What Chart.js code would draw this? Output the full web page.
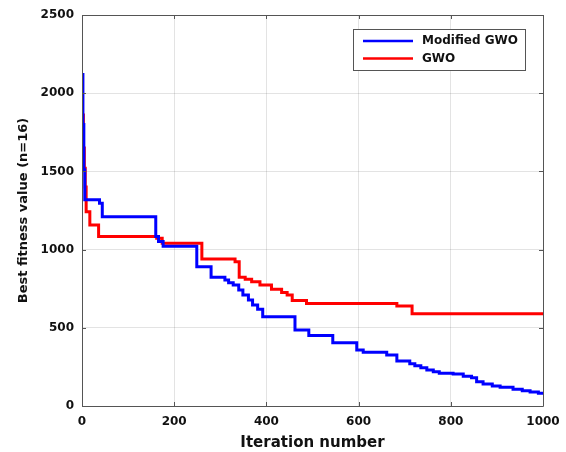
<!DOCTYPE html>
<html>
<head>
<meta charset="utf-8">
<script src="https://cdn.jsdelivr.net/npm/chart.js@4"></script>
<style>
  html, body { margin: 0; padding: 0; background: #ffffff; }
  #wrap { width: 566px; height: 452px; position: relative; }
</style>
</head>
<body>
<div id="wrap"><canvas id="c" width="566" height="452"></canvas></div>
<script>
// ---- Data ----
const seriesLabels = ["Modified GWO", "GWO"];
const seriesColors = ["#0000ff", "#ff0000"];

const modIter = [0, 2, 4, 6, 38, 44, 160, 166, 176, 249, 280, 310, 318, 328, 340, 349, 361, 370, 381, 392,
  462, 492, 544, 596, 610, 661, 683, 711, 722, 735, 748, 762, 775, 805, 827, 845, 856, 870, 890, 907, 935, 955, 972, 990, 1000];
const modFit = [2120, 1800, 1510, 1318, 1296, 1210, 1083, 1051, 1021, 891, 823, 806, 788, 774, 742, 710, 678, 646, 618, 570,
  486, 450, 405, 358, 343, 326, 288, 270, 258, 245, 230, 219, 209, 205, 190, 180, 155, 140, 128, 120, 107, 98, 90, 82, 77];

const gwoIter = [0, 3, 5, 7, 9, 17, 36, 162, 174, 260, 332, 341, 354, 368, 386, 411, 433, 445, 456, 487, 683, 716, 1000];
const gwoFit = [1860, 1650, 1520, 1400, 1242, 1157, 1083, 1072, 1040, 940, 923, 823, 810, 795, 774, 746, 725, 710, 675, 655, 640, 590, 590];

const xTicks = [0, 200, 400, 600, 800, 1000];
const yTicks = [0, 500, 1000, 1500, 2000, 2500];

const xTitle = "Iteration number";
const yTitle = "Best fitness value (n=16)";

// ---- Build ----
function toPoints(xs, ys) { return xs.map((x, i) => ({ x: x, y: ys[i] })); }

const FONT = "'DejaVu Sans', sans-serif";
const TEXT = "#111111";
const FRAME = "#555555";

const framePlugin = {
  id: 'frame',
  afterDatasetsDraw(chart) {
    const { ctx, chartArea: a, scales } = chart;
    ctx.save();
    ctx.strokeStyle = FRAME;
    ctx.lineWidth = 1;
    ctx.beginPath();
    ctx.rect(Math.round(a.left) + 0.5, Math.round(a.top) + 0.5, Math.round(a.right - a.left), Math.round(a.bottom - a.top));
    ctx.stroke();
    const tl = 4;
    ctx.beginPath();
    xTicks.forEach(v => {
      const px = Math.round(scales.x.getPixelForValue(v)) + 0.5;
      ctx.moveTo(px, a.bottom); ctx.lineTo(px, a.bottom - tl);
      ctx.moveTo(px, a.top); ctx.lineTo(px, a.top + tl);
    });
    yTicks.forEach(v => {
      const py = Math.round(scales.y.getPixelForValue(v)) + 0.5;
      ctx.moveTo(a.left, py); ctx.lineTo(a.left + tl, py);
      ctx.moveTo(a.right, py); ctx.lineTo(a.right - tl, py);
    });
    ctx.stroke();

    // legend box
    const bx = 353.5, by = 29.5, bw = 172, bh = 41;
    ctx.fillStyle = "#ffffff";
    ctx.fillRect(bx, by, bw, bh);
    ctx.strokeStyle = FRAME;
    ctx.strokeRect(bx, by, bw, bh);
    ctx.font = "bold 12px " + FONT;
    ctx.textBaseline = "middle";
    ctx.textAlign = "left";
    chart.data.datasets.forEach((ds, i) => {
      const y = 41 + i * 17.5;
      ctx.strokeStyle = ds.borderColor;
      ctx.lineWidth = 2.5;
      ctx.beginPath();
      ctx.moveTo(363, y); ctx.lineTo(413, y);
      ctx.stroke();
      ctx.fillStyle = TEXT;
      ctx.fillText(ds.label, 422, y);
    });
    ctx.restore();
  }
};

new Chart(document.getElementById('c'), {
  type: 'line',
  data: {
    datasets: [
      { label: seriesLabels[0], data: toPoints(modIter, modFit), borderColor: seriesColors[0], backgroundColor: seriesColors[0],
        borderWidth: 3, pointRadius: 0, stepped: true, fill: false },
      { label: seriesLabels[1], data: toPoints(gwoIter, gwoFit), borderColor: seriesColors[1], backgroundColor: seriesColors[1],
        borderWidth: 3, pointRadius: 0, stepped: true, fill: false }
    ]
  },
  options: {
    responsive: false,
    animation: false,
    devicePixelRatio: 1,
    layout: { padding: { left: 0, right: 23, top: 15, bottom: 0 } },
    plugins: { legend: { display: false }, tooltip: { enabled: false } },
    scales: {
      x: {
        type: 'linear', min: 0, max: 1000,
        afterBuildTicks(s) { s.ticks = xTicks.map(v => ({ value: v })); },
        afterFit(s) { s.height = 46; s.paddingLeft = 0; s.paddingRight = 0; },
        grid: { color: 'rgba(0,0,0,0.11)', drawTicks: false },
        border: { display: false },
        ticks: { padding: 9, color: TEXT, font: { family: FONT, size: 12, weight: 'bold' }, maxRotation: 0,
                 callback: v => String(v) },
        title: { display: true, text: xTitle, color: TEXT, font: { family: FONT, size: 15, weight: 'bold' }, padding: { top: 0, bottom: 0 } }
      },
      y: {
        type: 'linear', min: 0, max: 2500,
        afterBuildTicks(s) { s.ticks = yTicks.map(v => ({ value: v })); },
        afterFit(s) { s.width = 82; s.paddingTop = 0; s.paddingBottom = 0; },
        grid: { color: 'rgba(0,0,0,0.11)', drawTicks: false },
        border: { display: false },
        ticks: { padding: 8, color: TEXT, font: { family: FONT, size: 12, weight: 'bold' },
                 callback: v => String(v) },
        title: { display: true, text: yTitle, color: TEXT, font: { family: FONT, size: 13, weight: 'bold' }, padding: { top: 16, bottom: 0 } }
      }
    }
  },
  plugins: [framePlugin]
});
</script>
</body>
</html>
